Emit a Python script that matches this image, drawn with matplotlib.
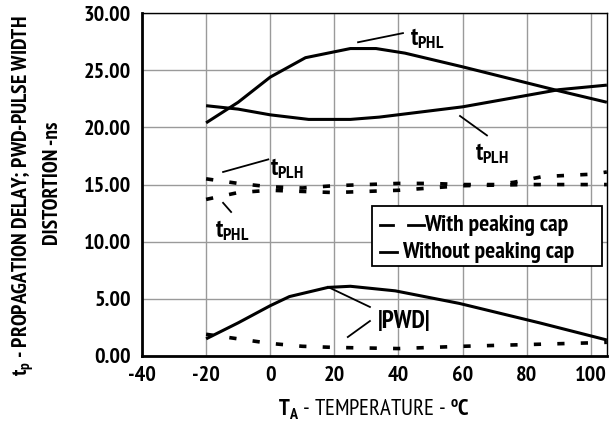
import matplotlib
matplotlib.use('Agg')
import matplotlib.pyplot as plt
from matplotlib import font_manager as fm
from matplotlib.patches import Rectangle

# condensed bold face if available, else a plain sans
_have = {f.name for f in fm.fontManager.ttflist}
FONT = next((n for n in ['PT Sans Narrow', 'Roboto Condensed', 'Archivo Narrow',
                         'Liberation Sans Narrow', 'Fira Sans Condensed',
                         'Open Sans Condensed', 'Liberation Sans'] if n in _have),
            'DejaVu Sans')

plt.rcParams['font.family'] = [FONT, 'DejaVu Sans']
plt.rcParams['font.weight'] = 'bold'
plt.rcParams['mathtext.fontset'] = 'custom'
plt.rcParams['mathtext.rm'] = f'{FONT}:bold'
plt.rcParams['mathtext.it'] = f'{FONT}:bold'
plt.rcParams['mathtext.bf'] = f'{FONT}:bold'
plt.rcParams['mathtext.default'] = 'rm'
plt.rcParams['axes.unicode_minus'] = False

# =============================================================================
# DATA
# =============================================================================

# without peaking cap (solid)
T_PHL_NC = [-20, -10, 0, 11, 25, 33, 42, 60, 80, 90, 105]
PHL_NC   = [20.4, 22.2, 24.4, 26.1, 26.9, 26.9, 26.5, 25.3, 23.9, 23.2, 22.2]

T_PLH_NC = [-20, -10, 0, 12, 25, 34, 60, 80, 90, 105]
PLH_NC   = [21.9, 21.6, 21.1, 20.7, 20.7, 20.9, 21.8, 22.8, 23.3, 23.7]

T_PWD_NC = [-20, -10, 0, 6, 18, 25, 39, 59, 84, 105]
PWD_NC   = [1.5, 2.9, 4.4, 5.2, 6.0, 6.1, 5.7, 4.6, 2.9, 1.4]

# with peaking cap (dashed)
T_PLH_C = [-20, -10, 0, 10, 20, 40, 50, 60, 70, 76, 85, 100, 105]
PLH_C   = [15.5, 15.1, 14.8, 14.7, 14.9, 15.1, 15.1, 15.0, 15.0, 15.2, 15.7, 15.9, 16.1]

T_PHL_C = [-20, -10, 0, 10, 20, 40, 50, 60, 80, 105]
PHL_C   = [13.7, 14.3, 14.5, 14.4, 14.3, 14.5, 14.7, 14.9, 15.0, 15.0]

T_PWD_C = [-20, -10, 0, 10, 20, 40, 60, 80, 100, 105]
PWD_C   = [1.9, 1.5, 1.1, 0.85, 0.75, 0.65, 0.85, 1.0, 1.15, 1.2]

X_TICKS = [-40, -20, 0, 20, 40, 60, 80, 100]
Y_TICKS = [0, 5, 10, 15, 20, 25, 30]

# =============================================================================
# PLOT
# =============================================================================

fig = plt.figure(figsize=(6.13, 4.23), dpi=100)
ax = fig.add_axes([0.2316, 0.1584, 0.7584, 0.8106])

solid = dict(color='black', lw=2.2, solid_capstyle='butt')
dashed = dict(color='black', lw=2.6, dashes=(2.0, 4.5), dash_capstyle='butt')

ax.plot(T_PHL_NC, PHL_NC, **solid)
ax.plot(T_PLH_NC, PLH_NC, **solid)
ax.plot(T_PWD_NC, PWD_NC, **solid)
ax.plot(T_PLH_C, PLH_C, **dashed)
ax.plot(T_PHL_C, PHL_C, **dashed)
ax.plot(T_PWD_C, PWD_C, **dashed)

ax.set_xlim(-40, 105)
ax.set_ylim(0, 30)
ax.set_xticks(X_TICKS)
ax.set_yticks(Y_TICKS)
ax.set_yticklabels([f'{v:.2f}' for v in Y_TICKS])
ax.tick_params(length=0, labelsize=16)
ax.tick_params(axis='y', pad=8)
ax.tick_params(axis='x', pad=7)
ax.grid(True, color='#9a9a9a', lw=1.0)
ax.set_axisbelow(True)
for s in ['top', 'right']:
    ax.spines[s].set_linewidth(1.0)
for s in ['left', 'bottom']:
    ax.spines[s].set_linewidth(2.0)

ax.set_xlabel(r'$T_A$ - TEMPERATURE - $^oC$', fontsize=16.5, labelpad=9)
fig.text(0.038, 0.538, r'$t_p$ - PROPAGATION DELAY; PWD-PULSE WIDTH',
         rotation=90, fontsize=15.5, ha='center', va='center')
fig.text(0.085, 0.566, 'DISTORTION -ns',
         rotation=90, fontsize=15.5, ha='center', va='center')

# curve labels
ann = dict(fontsize=18, ha='left', va='center')
line_kw = dict(color='black', lw=1.3)
ax.text(43.6, 27.8, r'$t_{PHL}$', **ann)
ax.plot([27.4, 41.4], [27.45, 28.25], **line_kw)
ax.text(63.8, 17.7, r'$t_{PLH}$', **ann)
ax.plot([59.2, 67.6], [21.0, 19.3], **line_kw)
ax.text(-0.1, 16.4, r'$t_{PLH}$', **ann)
ax.plot([-14.7, -0.6], [16.1, 17.2], **line_kw)
ax.text(-17.2, 11.0, r'$t_{PHL}$', **ann)
ax.plot([-14.7, -12.2], [13.4, 12.6], **line_kw)
ax.text(33.6, 3.0, '|PWD|', fontsize=18, ha='left', va='center')
ax.plot([18.0, 31.1], [6.04, 4.29], **line_kw)
ax.plot([24.2, 31.1], [1.66, 3.06], **line_kw)

# legend box
ax.add_patch(Rectangle((0.495, 0.262), 0.494, 0.175, transform=ax.transAxes,
                       fc='white', ec='black', lw=1.3, zorder=5))
ax.plot([0.512, 0.540], [0.382, 0.382], transform=ax.transAxes, color='black', lw=2, zorder=6)
ax.plot([0.572, 0.606], [0.382, 0.382], transform=ax.transAxes, color='black', lw=2, zorder=6)
ax.text(0.606, 0.382, 'With peaking cap', transform=ax.transAxes, fontsize=17,
        va='center', ha='left', zorder=6)
ax.plot([0.512, 0.548], [0.303, 0.303], transform=ax.transAxes, color='black', lw=2, zorder=6)
ax.text(0.560, 0.303, 'Without peaking cap', transform=ax.transAxes, fontsize=17,
        va='center', ha='left', zorder=6)

fig.savefig('out.png', dpi=100)
